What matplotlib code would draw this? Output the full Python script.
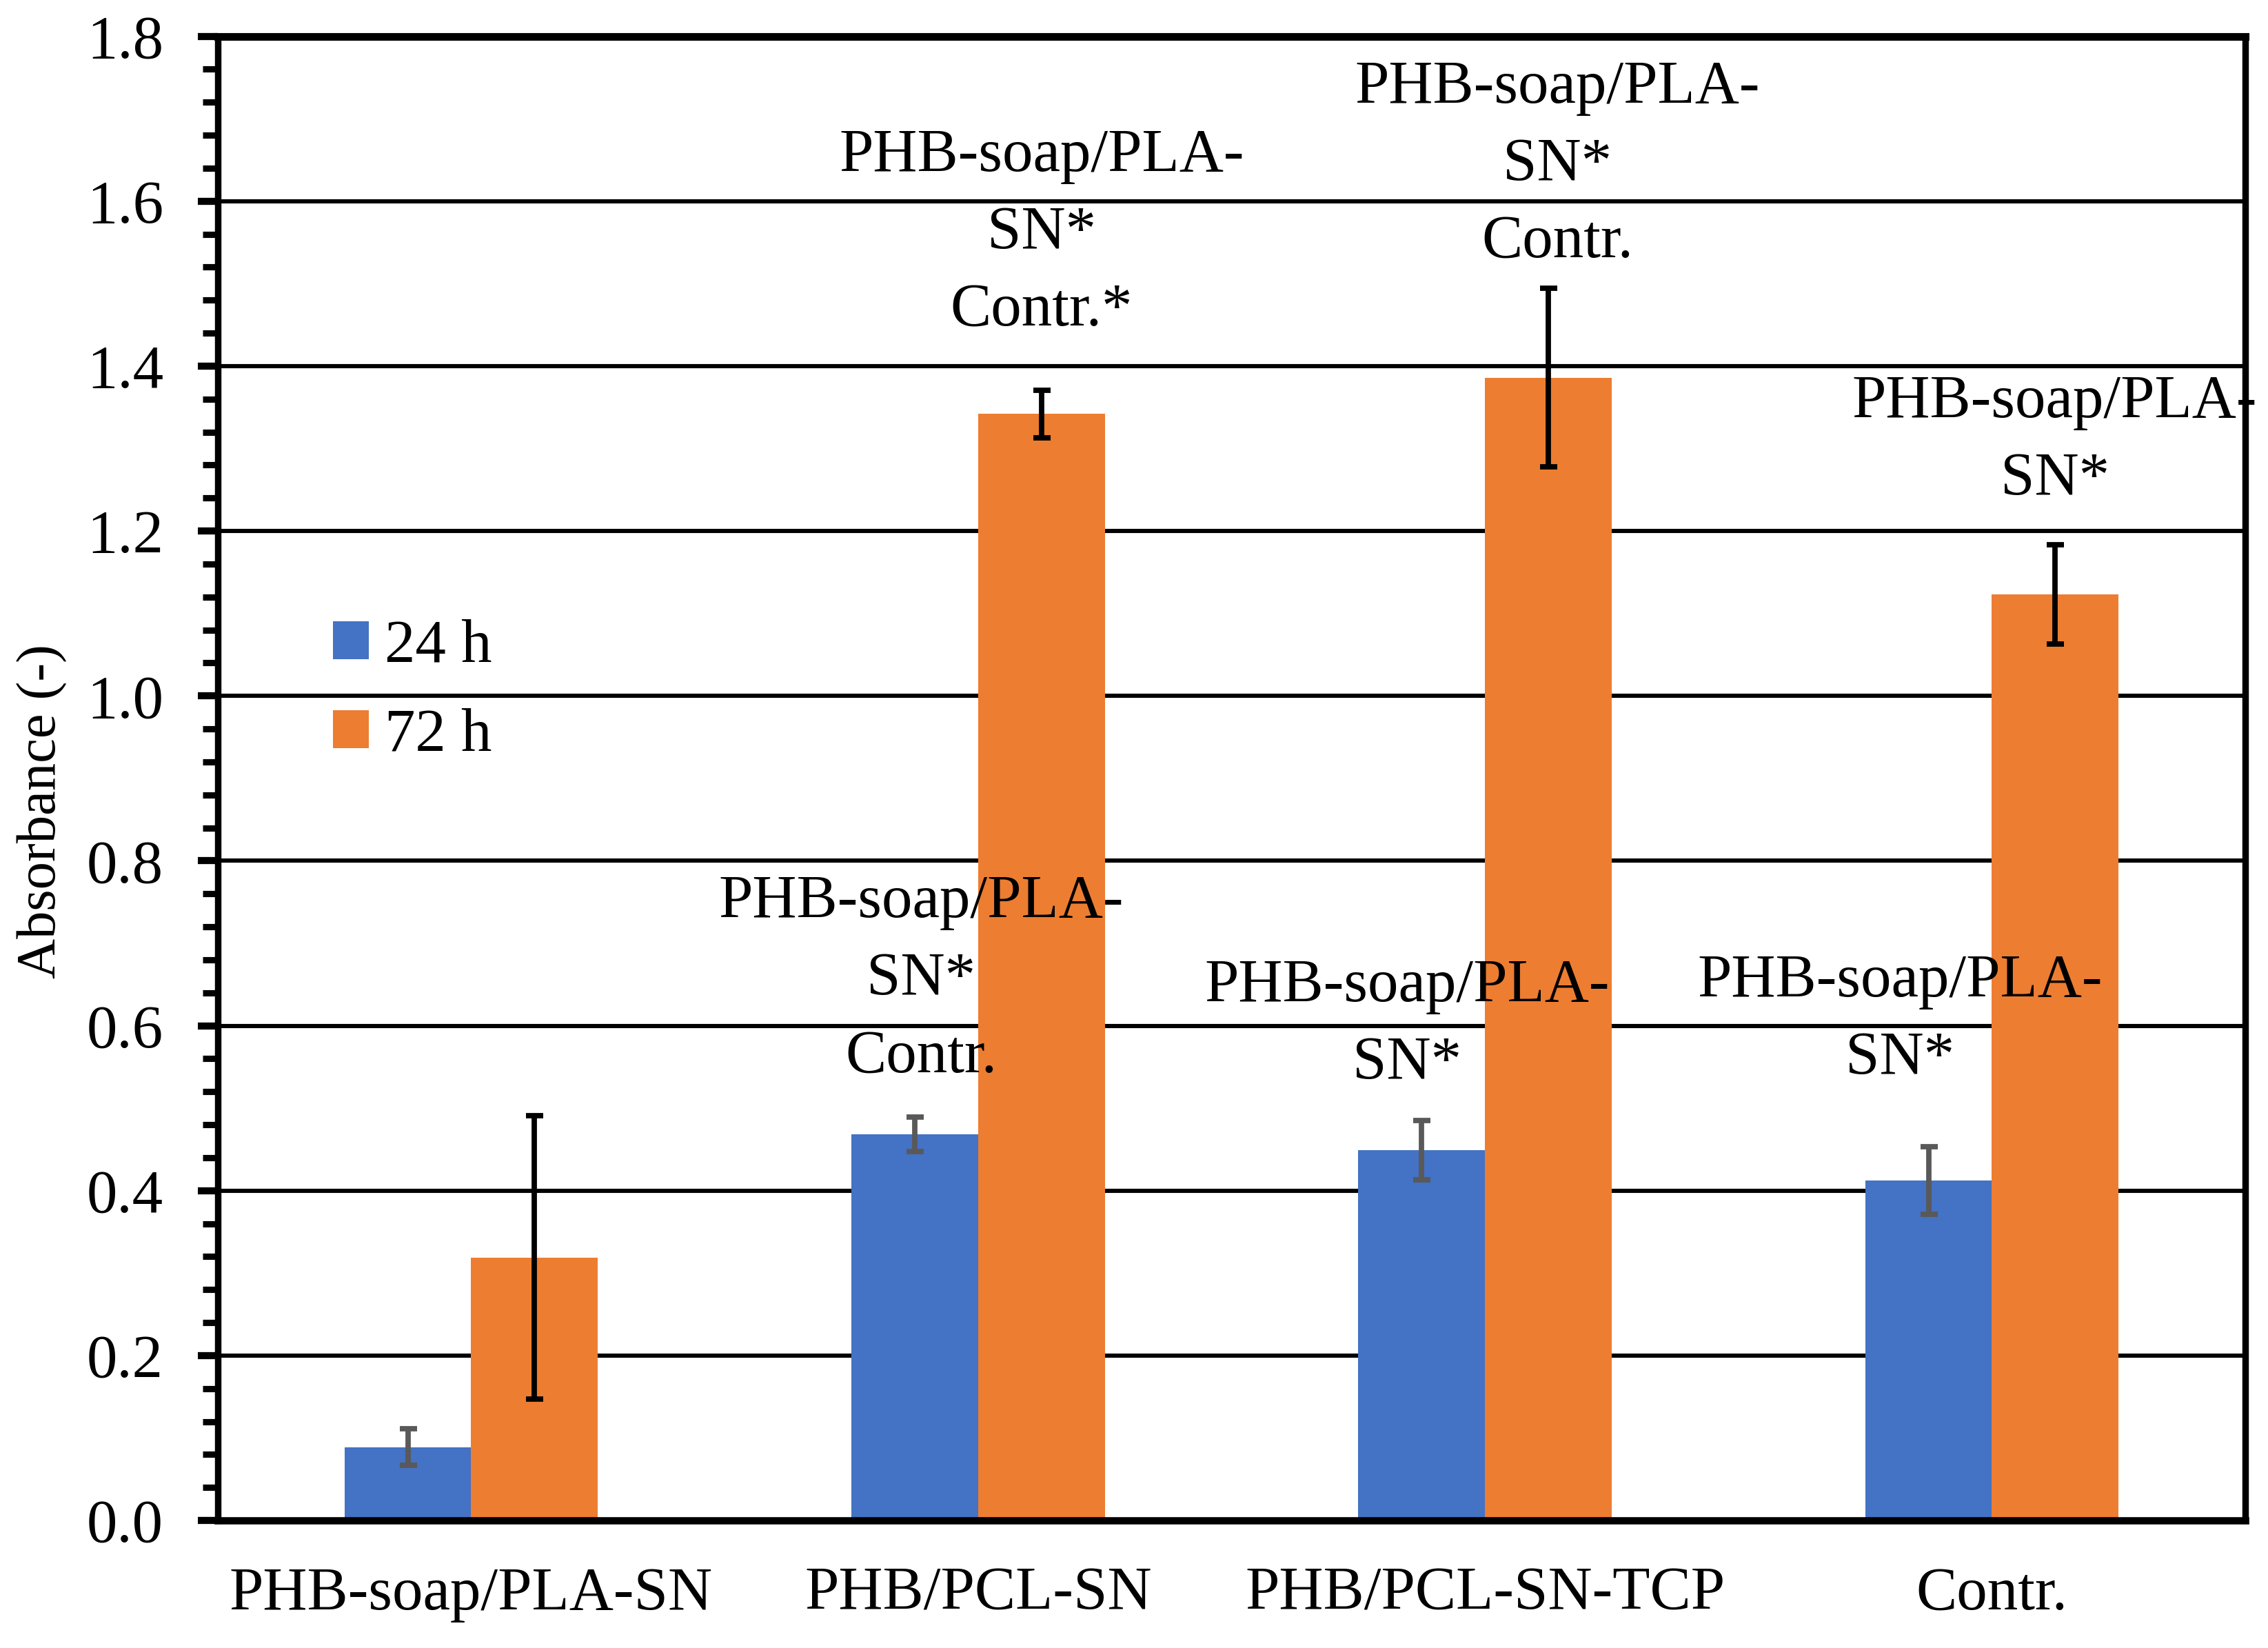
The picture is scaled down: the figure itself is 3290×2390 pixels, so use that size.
import matplotlib
matplotlib.use("Agg")
import matplotlib.pyplot as plt
import numpy as np
from matplotlib.patches import Patch
from matplotlib.ticker import MultipleLocator

plt.rcParams['font.family'] = ['Liberation Serif', 'DejaVu Serif']

categories = ["PHB-soap/PLA-SN", "PHB/PCL-SN", "PHB/PCL-SN-TCP", "Contr."]
series_names = ["24 h", "72 h"]
vals_24 = [0.089, 0.468, 0.449, 0.412]
err_24 = [0.022, 0.021, 0.036, 0.041]
vals_72 = [0.319, 1.342, 1.386, 1.123]
err_72 = [0.172, 0.029, 0.108, 0.060]

# significance labels (series index, category index, text)
sig_labels = [
    (0, 1, "PHB-soap/PLA-\nSN*\nContr."),
    (1, 1, "PHB-soap/PLA-\nSN*\nContr.*"),
    (0, 2, "PHB-soap/PLA-\nSN*"),
    (1, 2, "PHB-soap/PLA-\nSN*\nContr."),
    (0, 3, "PHB-soap/PLA-\nSN*"),
    (1, 3, "PHB-soap/PLA-\nSN*"),
]
# label block centres (x offset from bar centre, y in data units)
sig_pos = [(0.013, 0.656), (0.0, 1.561), (-0.029, 0.601),
           (0.018, 1.644), (-0.056, 0.607), (-0.001, 1.309)]

c_blue = "#4472C4"
c_orange = "#ED7D31"

fig = plt.figure(figsize=(16.45, 11.95), dpi=200)
ax = fig.add_axes([0.096, 0.0774, 0.894, 0.9006])

x = np.arange(len(categories))
w = 0.25
ax.bar(x - w / 2, vals_24, w, color=c_blue, zorder=2)
ax.bar(x + w / 2, vals_72, w, color=c_orange, zorder=2)
ax.errorbar(x - w / 2, vals_24, yerr=err_24, fmt='none', ecolor="#595959",
            elinewidth=2.8, capsize=4.5, capthick=2.8, zorder=3)
ax.errorbar(x + w / 2, vals_72, yerr=err_72, fmt='none', ecolor="black",
            elinewidth=2.8, capsize=4.5, capthick=2.8, zorder=3)

for (s, c, t), (dx, yy) in zip(sig_labels, sig_pos):
    xc = x[c] + (-w / 2 if s == 0 else w / 2) + dx
    ax.text(xc, yy, t, ha='center', va='center', fontsize=32,
            linespacing=1.50, zorder=4)

ax.set_xlim(-0.5, 3.5)
ax.set_ylim(0, 1.8)
ax.yaxis.set_major_locator(MultipleLocator(0.2))
ax.yaxis.set_minor_locator(MultipleLocator(0.04))
ax.yaxis.set_major_formatter(matplotlib.ticker.FormatStrFormatter('%.1f'))
ax.set_xticks(x)
ax.set_xticklabels(categories, fontsize=32)
ax.tick_params(axis='x', length=0, pad=24)
ax.tick_params(axis='y', which='major', direction='out', length=10.4,
               width=3.7, labelsize=32, pad=18)
ax.tick_params(axis='y', which='minor', direction='out', length=7.9,
               width=3.3)

ax.grid(axis='y', which='major', color='black', linewidth=2.2)
ax.set_axisbelow(True)
for sp in ax.spines.values():
    sp.set_linewidth(3.4)
    sp.set_color('black')
ax.spines['top'].set_linewidth(4.0)
ax.spines['bottom'].set_linewidth(3.8)

ax.set_ylabel("Absorbance (-)", fontsize=29)
ax.yaxis.set_label_coords(-0.074, 0.478)

handles = [Patch(facecolor=c_blue, edgecolor='none'),
           Patch(facecolor=c_orange, edgecolor='none')]
ax.legend(handles, series_names, loc='center left',
          bbox_to_anchor=(0.057, 0.5585), frameon=False, fontsize=32,
          handlelength=0.58, handleheight=0.58, handletextpad=0.26,
          labelspacing=0.54, borderpad=0, borderaxespad=0)

fig.savefig("out.png", dpi=200)
